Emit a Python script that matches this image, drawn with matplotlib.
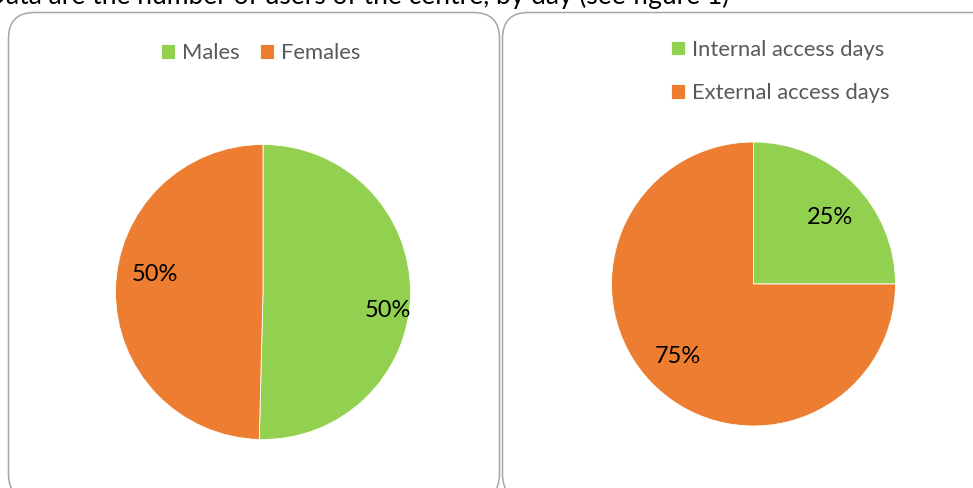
import matplotlib
matplotlib.use("Agg")
import matplotlib.pyplot as plt
from matplotlib.patches import FancyBboxPatch

plt.rcParams['font.family'] = ['Lato', 'DejaVu Sans']

# Data
gender_labels = ["Males", "Females"]
gender_values = [50.4, 49.6]
access_labels = ["Internal access days", "External access days"]
access_values = [25, 75]

GREEN = "#92D050"
ORANGE = "#ED7D31"
LEGEND_GREY = "#595959"
BORDER = "#A6A6A6"

W, H = 973, 488
fig = plt.figure(figsize=(W / 100, H / 100), dpi=100)

# Background layer in pixel units for the panel frames and the caption line
bg = fig.add_axes([0, 0, 1, 1])
bg.set_xlim(0, W)
bg.set_ylim(H, 0)
bg.axis("off")
for x0, x1 in [(8.5, 499.5), (502.5, 1000)]:
    bg.add_patch(FancyBboxPatch((x0, 12.5), x1 - x0, 500 - 12.5,
                                boxstyle="round,pad=0,rounding_size=26",
                                facecolor="white", edgecolor=BORDER, lw=1.1))
bg.text(-14, 4, "Data are the number of users of the centre, by day (see figure 1)",
        fontsize=19, color="black", va="baseline", ha="left")


def pie_axes(cx, cy, r):
    return fig.add_axes([(cx - r) / W, (H - cy - r) / H, 2 * r / W, 2 * r / H])


def draw_pie(ax, values, label_pos):
    wedges, _, autotexts = ax.pie(
        values, colors=[GREEN, ORANGE], startangle=90, counterclock=False,
        autopct="%.0f%%", radius=1,
        wedgeprops=dict(edgecolor="white", linewidth=0.6),
        textprops=dict(fontsize=17, color="black"))
    for t, pos in zip(autotexts, label_pos):
        t.set_position(pos)
        t.set_ha("center")
        t.set_va("center")
    ax.set_xlim(-1, 1)
    ax.set_ylim(-1, 1)
    ax.set_aspect("equal")
    return wedges


ax1 = pie_axes(263, 292, 147.5)
w1 = draw_pie(ax1, gender_values, [(0.85, -0.125), (-0.73, 0.12)])

ax2 = pie_axes(753.5, 284, 142)
w2 = draw_pie(ax2, access_values, [(0.54, 0.47), (-0.535, -0.51)])

leg_kw = dict(frameon=False, fontsize=15.8, labelcolor=LEGEND_GREY,
              handlelength=0.64, handleheight=0.64, handletextpad=0.3,
              borderpad=0, borderaxespad=0)
fig.legend(w1, gender_labels, loc="center left", ncol=2, columnspacing=0.95,
           bbox_to_anchor=(161 / W, 1 - 53 / H), **leg_kw)
fig.legend(w2, access_labels, loc="upper left", ncol=1, labelspacing=1.08,
           bbox_to_anchor=(671 / W, 1 - 39.5 / H), **leg_kw)

fig.savefig("out.png", dpi=100)
